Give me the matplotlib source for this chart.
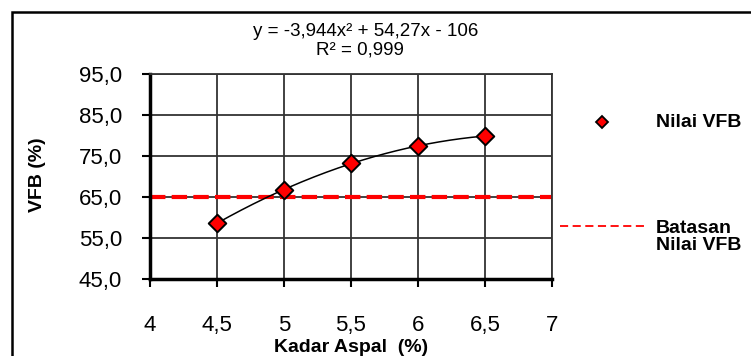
import numpy as np
import matplotlib
matplotlib.use("Agg")
import matplotlib.pyplot as plt
from matplotlib.patches import Rectangle
from matplotlib.lines import Line2D

plt.rcParams["font.family"] = ["Liberation Sans", "DejaVu Sans"]

# data
kadar_aspal = [4.5, 5.0, 5.5, 6.0, 6.5]
nilai_vfb = [58.6, 66.8, 73.2, 77.4, 79.9]
batas_vfb = 65.0
x_ticks = [4, 4.5, 5, 5.5, 6, 6.5, 7]
x_labels = ["4", "4,5", "5", "5,5", "6", "6,5", "7"]
y_ticks = [45, 55, 65, 75, 85, 95]
y_labels = ["45,0", "55,0", "65,0", "75,0", "85,0", "95,0"]

W, H = 751, 356
fig = plt.figure(figsize=(W / 100, H / 100), dpi=100)

# outer chart frame (runs off the right/bottom edge)
fig.patches.append(Rectangle((12 / W, -0.1), 1.0, (H - 12) / H + 0.1,
                             transform=fig.transFigure, fill=False,
                             edgecolor="black", linewidth=1.8))

ax = fig.add_axes([150 / W, (H - 279) / H, (552 - 150) / W, (279 - 74) / H])

# polynomial trendline
coef = np.polyfit(kadar_aspal, nilai_vfb, 2)
xs = np.linspace(min(kadar_aspal), max(kadar_aspal), 200)
ax.plot(xs, np.polyval(coef, xs), color="black", linewidth=1.1, zorder=3)

ax.axhline(batas_vfb, color="#ff0000", linestyle=(0, (3.7, 1.5)), linewidth=3, zorder=2)
ax.scatter(kadar_aspal, nilai_vfb, marker="D", s=80, facecolor="#ff0000",
           edgecolor="black", linewidth=1.4, zorder=4)

ax.set_xlim(4, 7)
ax.set_ylim(45, 95)
ax.set_xticks(x_ticks)
ax.set_xticklabels(x_labels, fontsize=16)
ax.set_yticks(y_ticks)
ax.set_yticklabels(y_labels, fontsize=16)
ax.grid(True, color="#333333", linewidth=1.3)
ax.set_axisbelow(True)
for s in ["top", "right"]:
    ax.spines[s].set_color("#333333")
    ax.spines[s].set_linewidth(1.3)
for s in ["left", "bottom"]:
    ax.spines[s].set_linewidth(2.5)
ax.tick_params(direction="out", length=6, width=1.5)
ax.tick_params(axis="x", pad=20)
ax.tick_params(axis="y", pad=14)

ax.set_xlabel("Kadar Aspal  (%)", fontsize=14, fontweight="bold", labelpad=2)
fig.text(37 / W, 1 - 175 / H, "VFB (%)", rotation=90, fontsize=14,
         fontweight="bold", ha="center", va="center")

fig.text(366 / W, 1 - 32 / H, "y = -3,944x² + 54,27x - 106", fontsize=13.5,
         ha="center", va="center")
fig.text(360 / W, 1 - 50 / H, "R² = 0,999", fontsize=13.5, ha="center", va="center")

# legend drawn by hand at the right
fig.add_artist(Line2D([602 / W], [1 - 122 / H], marker="D", markersize=6,
                      markerfacecolor="#ff0000", markeredgecolor="black",
                      markeredgewidth=1.3, transform=fig.transFigure))
fig.text(656 / W, 1 - 122 / H, "Nilai VFB", fontsize=14, fontweight="bold", va="center")
fig.add_artist(Line2D([560 / W, 645 / W], [1 - 226 / H] * 2, color="#ff0000",
                      linestyle=(0, (4.5, 2.5)), linewidth=1.3, transform=fig.transFigure))
fig.text(656 / W, 1 - 237 / H, "Batasan\nNilai VFB", fontsize=14, fontweight="bold",
         va="center", linespacing=1.05)

fig.savefig("out.png", dpi=100)
